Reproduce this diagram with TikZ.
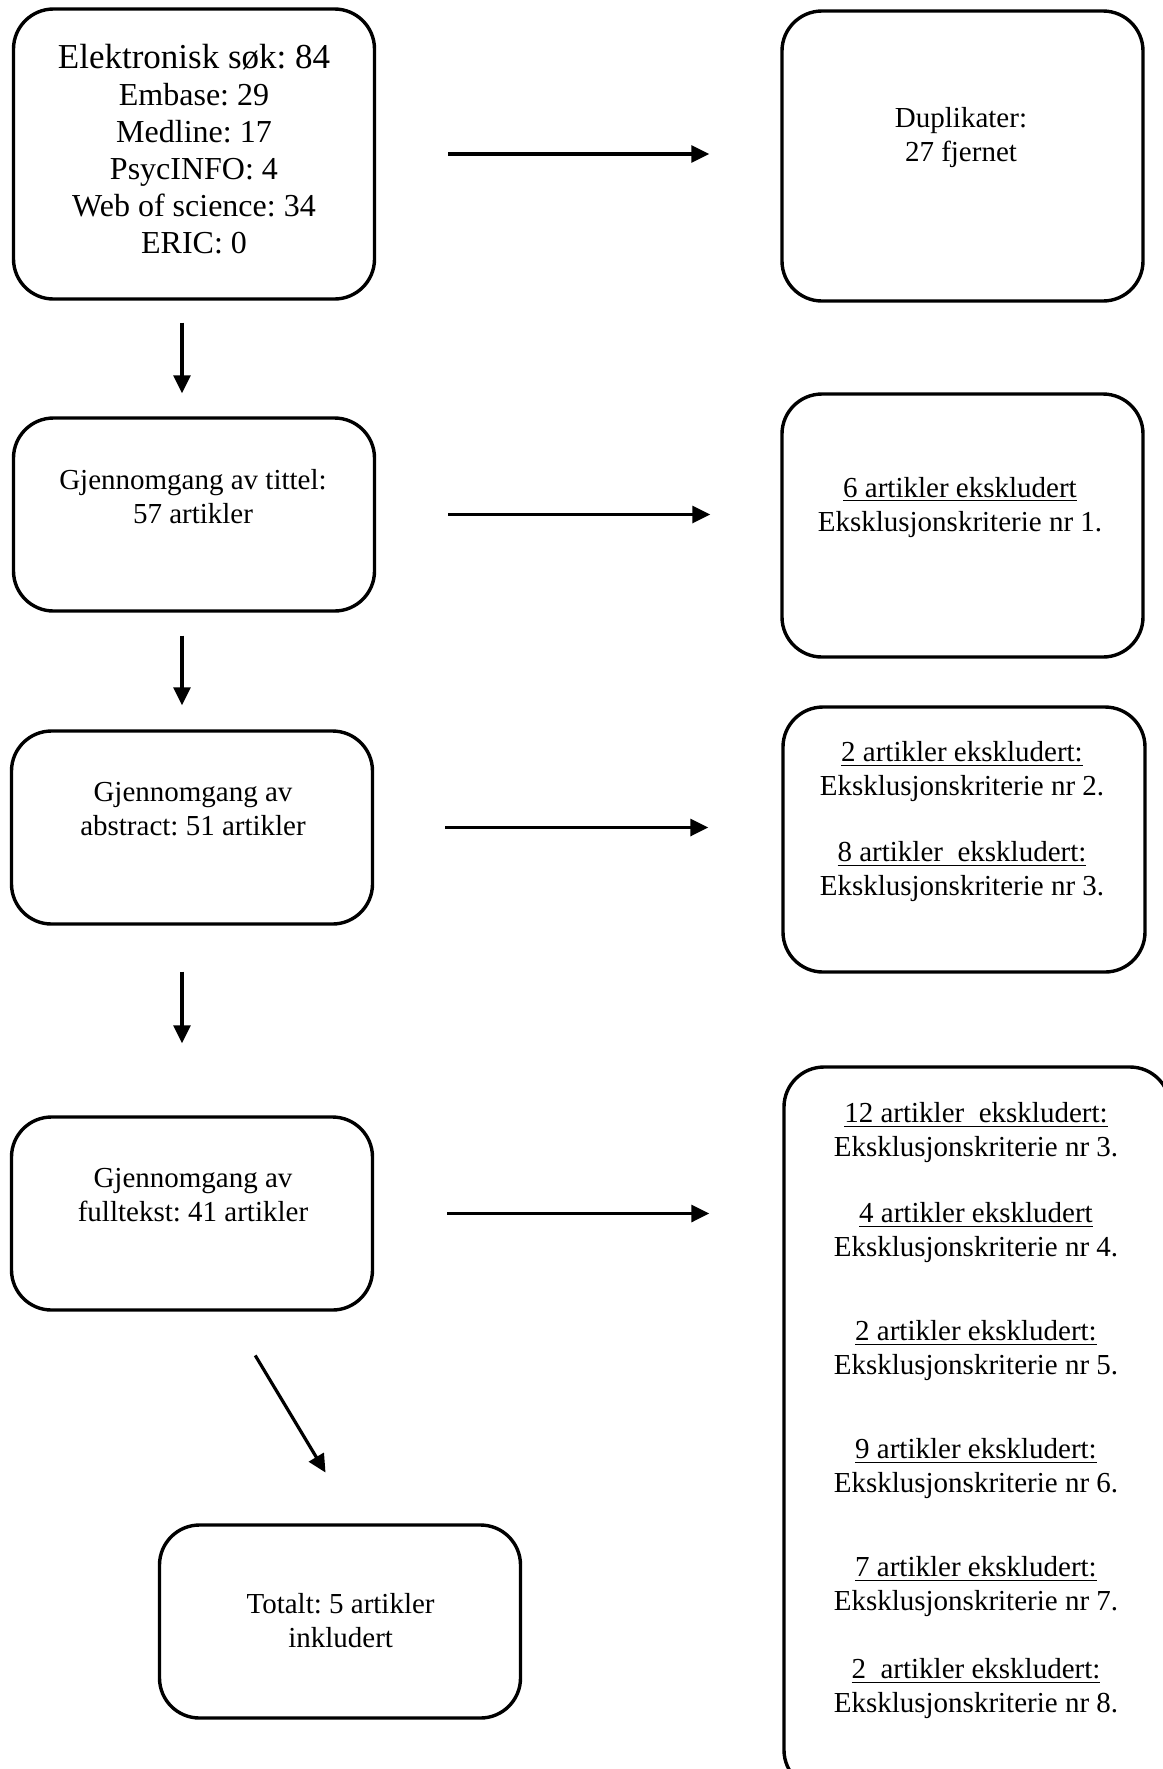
\documentclass[tikz,border=0pt]{standalone}
\usepackage{fontspec}
\setmainfont{Liberation Serif}
\frenchspacing
\usepackage{tikz}
\usetikzlibrary{arrows.meta}
\tikzset{%
  every box/.style={
    draw,
    line width=1.7pt,
    rounded corners=20pt,
    minimum width=180.5pt,
    minimum height=96.5pt
  },
  box text/.style={
    align=center,
    inner sep=0pt,
    font=\fontsize{14.5}{17}\selectfont
  },
  flow/.style={
    ->,
    line width=1.6pt
  },
}

\begin{document}
\begin{tikzpicture}[> = {Triangle[length=9pt,width=8.5pt]}, x=0.5pt, y=-0.5pt]
\useasboundingbox (0,0) rectangle (1163,1769);

% left column
\node[every box, minimum height=145pt] (search_box) at (194,154) {};
\node[box text, font=\fontsize{16}{18.5}\selectfont] (search_txt) at (194,149)
  {{\fontsize{17.5}{18.5}\selectfont Elektronisk søk: 84}\\Embase: 29\\Medline: 17\\PsycINFO: 4\\Web of science: 34\\ERIC: 0};
\node[every box] (title_box) at (194,514.5) {};
\node[box text] (title_txt) at (193,496.3) {Gjennomgang av tittel:\\57 artikler};
\node[every box] (abstract_box) at (192,827.5) {};
\node[box text] (abstract_txt) at (193,808.8) {Gjennomgang av\\abstract: 51 artikler};
\node[every box] (fulltext_box) at (192,1213.5) {};
\node[box text] (fulltext_txt) at (193,1194.6) {Gjennomgang av\\fulltekst: 41 artikler};
\node[every box] (total_box) at (340,1621.5) {};
\node[box text] (total_txt) at (340.6,1621) {Totalt: 5 artikler\\inkludert};

% right column
\node[every box, minimum height=145pt] (dup_box) at (962.5,156) {};
\node[box text] (dup_txt) at (961,137.6) {Duplikater:\\27 fjernet};
\node[every box, minimum height=131.5pt] (excl1_box) at (962.5,525.5) {};
\node[box text] (excl1_txt) at (960,507.6)
  {\underline{6 artikler ekskludert}\\Eksklusjonskriterie nr 1.};
\node[every box, minimum width=181pt, minimum height=132.5pt] (excl2_box) at (964,839.5) {};
\node[box text] (excl2_txt) at (962,821.8)
  {\underline{2 artikler ekskludert:}\\Eksklusjonskriterie nr 2.\\[16pt]
   \underline{8 artikler\ \ ekskludert:}\\Eksklusjonskriterie nr 3.};
\node[every box, minimum width=193pt, minimum height=361.5pt] (excl3_box) at (977,1428.5) {};
\node[box text] (excl3_txt) at (976,1411)
  {\underline{12 artikler\ \ ekskludert:}\\Eksklusjonskriterie nr 3.\\[16pt]
   \underline{4 artikler ekskludert}\\Eksklusjonskriterie nr 4.\\[25pt]
   \underline{2 artikler ekskludert:}\\Eksklusjonskriterie nr 5.\\[25pt]
   \underline{9 artikler ekskludert:}\\Eksklusjonskriterie nr 6.\\[25pt]
   \underline{7 artikler ekskludert:}\\Eksklusjonskriterie nr 7.\\[17pt]
   \underline{2\ \ artikler ekskludert:}\\Eksklusjonskriterie nr 8.};

% arrows
\draw[flow, shorten <=36pt, shorten >=35.5pt] (search_box.east) -- (search_box.east -| dup_box.west);
\draw[flow, shorten <=36pt, shorten >=35pt] (title_box.east) -- (title_box.east -| excl1_box.west);
\draw[flow, shorten <=35.5pt, shorten >=36.5pt] (abstract_box.east) -- (abstract_box.east -| excl2_box.west);
\draw[flow, shorten <=36.5pt, shorten >=36.5pt] (fulltext_box.east) -- (fulltext_box.east -| excl3_box.west);
\draw[flow, shorten <=11pt, shorten >=11.5pt] ([xshift=-6pt]search_box.south) -- ([xshift=-6pt]search_box.south |- title_box.north);
\draw[flow, shorten <=11.5pt, shorten >=12pt] ([xshift=-6pt]title_box.south) -- ([xshift=-6pt]title_box.south |- abstract_box.north);
\draw[flow, shorten <=23pt, shorten >=36pt] ([xshift=-5pt]abstract_box.south) -- ([xshift=-5pt]abstract_box.south |- fulltext_box.north);
\draw[flow, shorten <=25.5pt, shorten >=29.6pt] ([xshift=18.5pt]fulltext_box.south) -- ([xshift=8pt]total_box.north);
\end{tikzpicture}
\end{document}
